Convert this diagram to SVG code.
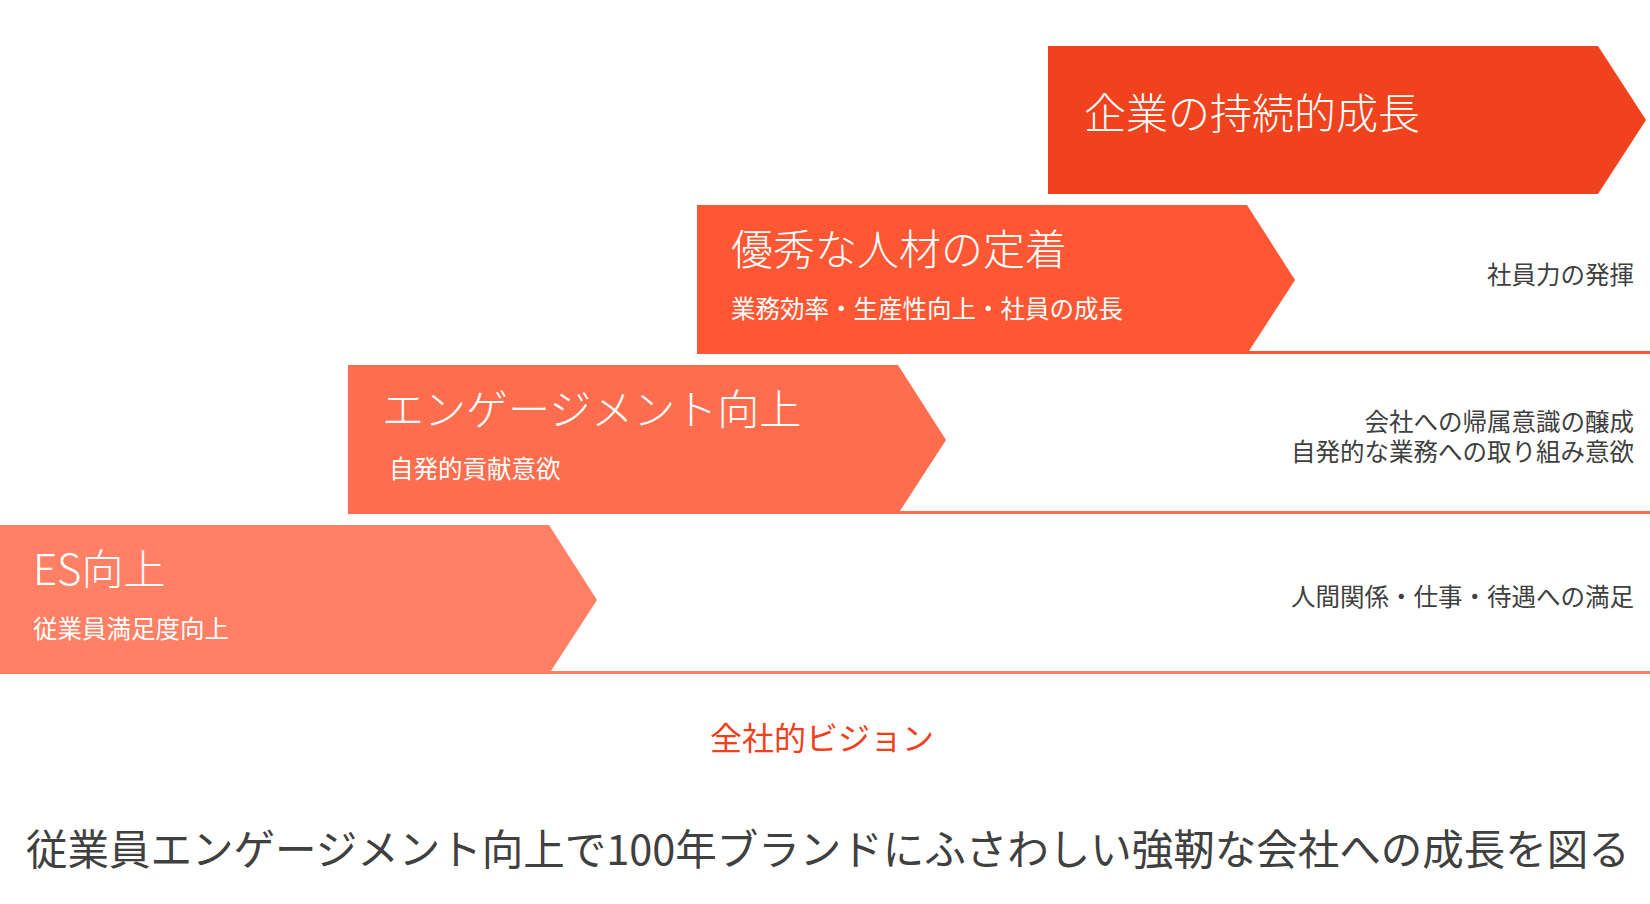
<svg xmlns="http://www.w3.org/2000/svg" width="1650" height="904" viewBox="0 0 1650 904">
<style>
text{font-family:"Noto Sans CJK JP","Noto Sans",sans-serif;}
.title{fill:#ffffff;font-size:42px;font-weight:300;}
.sub{fill:#ffffff;font-size:24.5px;}
.note{fill:#404040;font-size:24.5px;text-anchor:end;}
.vision{fill:#F0401C;font-size:32px;text-anchor:middle;}
.main{fill:#404040;font-size:41.5px;}
.line{stroke-width:3;fill:none;}
</style>
<rect width="1650" height="904" fill="#ffffff"/>
<g id="connectors">
<line class="line" x1="1247" y1="352.5" x2="1650" y2="352.5" stroke="#FF5733"/>
<line class="line" x1="898" y1="512.5" x2="1650" y2="512.5" stroke="#FF6D4F"/>
<line class="line" x1="549" y1="672.5" x2="1650" y2="672.5" stroke="#FF7F63"/>
</g>
<g id="step1">
<polygon points="1048,46 1598,46 1646,120 1598,194 1048,194" fill="#F0421C"/>
<text class="title" x="1084" y="129">企業の持続的成長</text>
</g>
<g id="step2">
<polygon points="697,205 1247,205 1295,280 1247,354 697,354" fill="#FF5733"/>
<text class="title" x="731" y="265">優秀な人材の定着</text>
<text class="sub" x="731" y="318">業務効率・生産性向上・社員の成長</text>
</g>
<g id="step3">
<polygon points="348,365 898,365 946,440 898,514 348,514" fill="#FF6D4F"/>
<text class="title" x="382" y="425">エンゲージメント向上</text>
<text class="sub" x="389" y="478">自発的貢献意欲</text>
</g>
<g id="step4">
<polygon points="0,525 549,525 597,600 549,674 0,674" fill="#FF8064"/>
<text class="title" x="33" y="585">ES向上</text>
<text class="sub" x="33" y="638">従業員満足度向上</text>
</g>
<g id="notes">
<text class="note" x="1634" y="284">社員力の発揮</text>
<text class="note"><tspan x="1634" y="431">会社への帰属意識の醸成</tspan><tspan x="1634" y="461">自発的な業務への取り組み意欲</tspan></text>
<text class="note" x="1634" y="606">人間関係・仕事・待遇への満足</text>
</g>
<g id="vision">
<text class="vision" x="822" y="750">全社的ビジョン</text>
</g>
<g id="message">
<text class="main" x="26" y="865">従業員エンゲージメント向上で100年ブランドにふさわしい強靭な会社への成長を図る</text>
</g>
</svg>
